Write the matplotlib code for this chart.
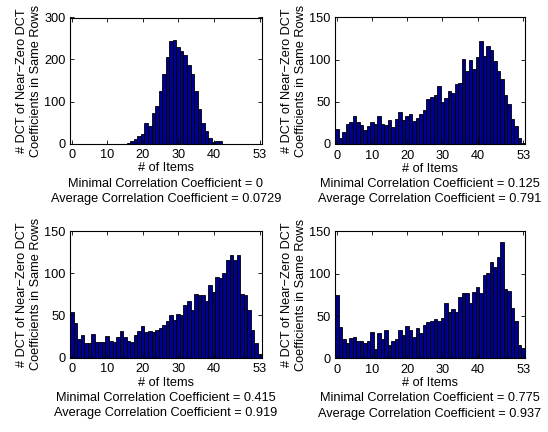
import matplotlib
matplotlib.use("Agg")
import matplotlib.pyplot as plt
import numpy as np

plt.rcParams['font.family'] = ['Liberation Sans', 'DejaVu Sans']

items = np.arange(0, 54)

counts_a = [0]*16 + [1, 5, 11, 18, 23, 50, 41, 72, 89, 125, 165, 207, 245, 246,
                     230, 220, 210, 188, 165, 126, 82, 50, 30, 14, 3, 5, 5] + [0]*11
counts_b = [18, 7, 14, 24, 26, 33, 26, 22, 17, 21, 26, 24, 33, 24, 23, 28, 20, 30,
            38, 29, 33, 36, 27, 31, 36, 40, 53, 56, 58, 69, 50, 55, 63, 60, 71, 72,
            101, 87, 100, 89, 103, 122, 104, 116, 112, 98, 86, 77, 58, 47, 30, 21, 7, 1]
counts_c = [54, 41, 22, 27, 17, 17, 28, 19, 19, 19, 26, 20, 19, 25, 32, 24, 20, 18,
            27, 32, 37, 31, 32, 31, 33, 35, 39, 43, 51, 45, 52, 50, 62, 67, 56, 75,
            74, 74, 67, 86, 78, 96, 94, 100, 116, 121, 116, 121, 75, 74, 57, 33, 17, 4]
counts_d = [75, 37, 23, 18, 24, 25, 21, 20, 18, 20, 31, 11, 30, 23, 33, 16, 20, 23,
            33, 28, 38, 33, 25, 36, 30, 39, 43, 44, 46, 44, 48, 66, 55, 58, 55, 73,
            77, 77, 65, 78, 84, 77, 98, 101, 114, 108, 120, 138, 82, 80, 60, 44, 16, 12]

series = [counts_a, counts_b, counts_c, counts_d]
min_corr = ["0", "0.125", "0.415", "0.775"]
avg_corr = ["0.0729", "0.791", "0.919", "0.937"]
xticks = [0, 10, 20, 30, 40, 53]
yticks_list = [[0, 100, 200, 300], [0, 50, 100, 150], [0, 50, 100, 150], [0, 50, 100, 150]]
ylabel = "# DCT of Near\u2212Zero DCT\nCoefficients in Same Rows"

FS = 9.2
fig = plt.figure(figsize=(5.48, 4.32), dpi=100)
W, H = 548, 432
boxes = [(70, 17.5, 261.5, 143.5), (335, 17.5, 525, 144),
         (70, 231, 261.5, 357.7), (335, 231.5, 525, 358.3)]

for k, (x0, y0, x1, y1) in enumerate(boxes):
    ax = fig.add_axes([x0 / W, 1 - y1 / H, (x1 - x0) / W, (y1 - y0) / H])
    ax.bar(items, series[k], width=1.0, color=(0, 0, 0.5625),
           edgecolor='black', linewidth=0.6)
    ax.set_xlim(-0.5, 53.5)
    yt = yticks_list[k]
    ax.set_ylim(yt[0], yt[-1])
    ax.set_xticks(xticks)
    ax.set_yticks(yt)
    ax.tick_params(direction='in', top=True, right=True, length=3,
                   width=0.6, labelsize=FS)
    ax.tick_params(axis='x', pad=4)
    ax.tick_params(axis='y', pad=3)
    for s in ax.spines.values():
        s.set_linewidth(0.8)
    ax.set_xlabel("# of Items\nMinimal Correlation Coefficient = %s\nAverage Correlation Coefficient = %s"
                  % (min_corr[k], avg_corr[k]), fontsize=FS, linespacing=1.35, labelpad=1)
    ax.set_ylabel(ylabel, fontsize=FS, linespacing=1.15, labelpad=2)

fig.savefig("out.png", dpi=100)
